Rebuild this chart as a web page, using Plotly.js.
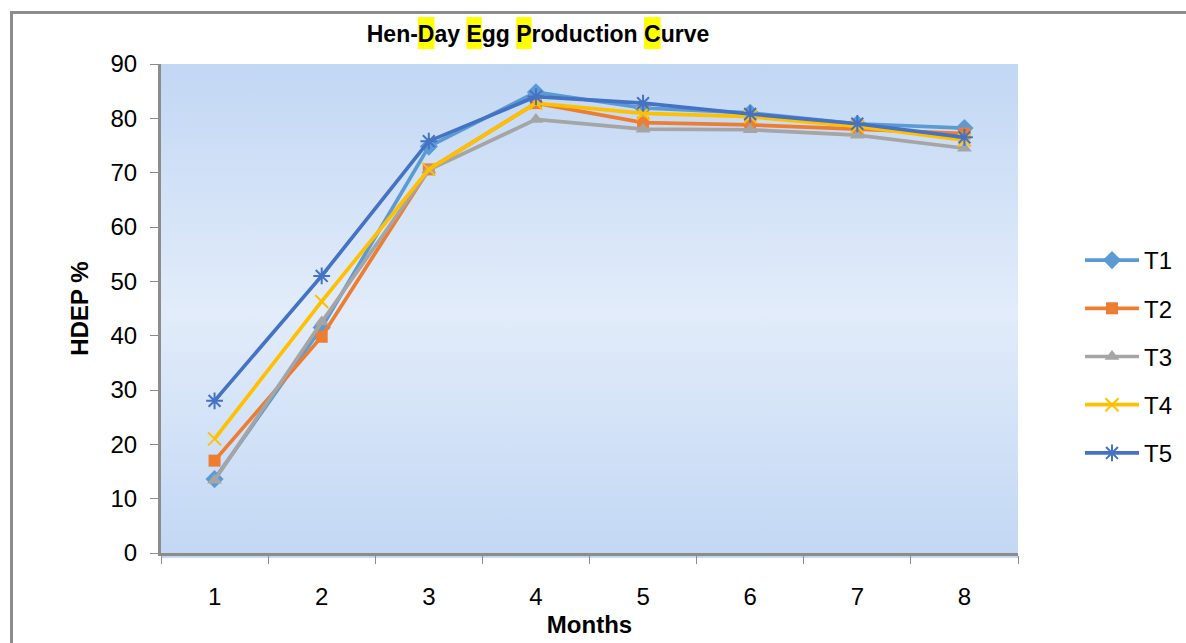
<!DOCTYPE html>
<html>
<head>
<meta charset="utf-8">
<script src="https://cdn.plot.ly/plotly-3.0.1.min.js"></script>
<style>
  html, body { margin: 0; padding: 0; background: #fff; }
  #wrap { position: relative; width: 1186px; height: 643px; overflow: hidden; }
  #chart { width: 1186px; height: 643px; }
  #frame { position: absolute; left: 10px; top: 11px; width: 1200px; height: 700px;
           border-left: 3px solid #8c8c8c; border-top: 3px solid #8c8c8c; pointer-events: none; }
</style>
</head>
<body>
<div id="wrap">
  <div id="chart"></div>
  <div id="frame"></div>
</div>
<script>
const months = ['1', '2', '3', '4', '5', '6', '7', '8'];
const seriesNames = ['T1', 'T2', 'T3', 'T4', 'T5'];
const T1 = [13.6, 41.5, 74.8, 84.8, 81.9, 81.0, 79.0, 78.2];
const T2 = [17.0, 39.8, 70.6, 82.8, 79.2, 78.8, 78.0, 77.2];
const T3 = [13.4, 42.5, 70.5, 79.8, 78.0, 77.9, 76.9, 74.5];
const T4 = [21.0, 46.3, 70.6, 82.8, 80.9, 80.3, 78.5, 76.0];
const T5 = [28.0, 51.0, 75.8, 84.0, 82.8, 80.8, 79.0, 76.5];
const yTicks = [0, 10, 20, 30, 40, 50, 60, 70, 80, 90];
const titleText = 'Hen-Day Egg Production Curve';
const highlightIdx = [4, 8, 12, 23]; // D, E, P, C

const FONT = '"Liberation Sans Narrow", "Arial Narrow", "Liberation Sans", Arial, sans-serif';

const styles = [
  {color: '#5B9BD5', symbol: 'diamond', size: 14, lw: 0},
  {color: '#ED7D31', symbol: 'square', size: 12, lw: 0},
  {color: '#A5A5A5', symbol: 'triangle-up', size: 13, lw: 0},
  {color: '#FFC000', symbol: 'x-thin-open', size: 13, lw: 2},
  {color: '#4472C4', symbol: 'asterisk-open', size: 14, lw: 2}
];
const values = [T1, T2, T3, T4, T5];

const traces = values.map((v, i) => ({
  type: 'scatter',
  mode: 'lines+markers',
  name: seriesNames[i],
  legendgroup: seriesNames[i],
  x: months,
  y: v,
  line: {color: styles[i].color, width: 3.7},
  marker: {symbol: styles[i].symbol, size: styles[i].size, color: styles[i].color,
           line: {color: styles[i].color, width: styles[i].lw}}
}));

// plot area: x 161..1018, y 64..553
const L = 161, R = 1018, T = 64, B = 553;

const gradSvg = '<svg xmlns="http://www.w3.org/2000/svg" width="100" height="100" preserveAspectRatio="none">' +
  '<defs><linearGradient id="g" x1="0" y1="0" x2="0" y2="1">' +
  '<stop offset="0" stop-color="#C2D7F4"/><stop offset="0.5" stop-color="#E2ECFA"/><stop offset="1" stop-color="#C2D7F4"/>' +
  '</linearGradient></defs><rect width="100" height="100" fill="url(#g)"/></svg>';
const gradUri = 'data:image/svg+xml;base64,' + btoa(gradSvg);

const layout = {
  width: 1186, height: 643,
  margin: {l: L, r: 1186 - R, t: T, b: 643 - B},
  paper_bgcolor: '#ffffff',
  plot_bgcolor: 'rgba(0,0,0,0)',
  font: {family: FONT, size: 24, color: '#000'},
  title: {
    text: '<b>' + titleText + '</b>',
    font: {family: FONT, size: 23, color: '#000'},
    xref: 'container', yref: 'container',
    x: 538 / 1186, xanchor: 'center',
    y: 1 - 34 / 643, yanchor: 'middle'
  },
  xaxis: {
    type: 'category',
    range: [-0.5, 7.5],
    tickson: 'boundaries',
    ticks: 'outside', ticklen: 8, tickwidth: 1, tickcolor: '#8c8c8c',
    ticklabelstandoff: 20,
    showline: true, linecolor: '#8c8c8c', linewidth: 3,
    showgrid: false, zeroline: false,
    tickfont: {family: FONT, size: 24, color: '#000'},
    title: {text: '<b>Months</b>', font: {family: FONT, size: 24, color: '#000'}, standoff: 8},
    fixedrange: true
  },
  yaxis: {
    range: [0, 90],
    tickvals: yTicks,
    ticks: 'outside', ticklen: 8, tickwidth: 1, tickcolor: '#8c8c8c',
    ticklabelstandoff: 8,
    showline: true, linecolor: '#8c8c8c', linewidth: 3,
    showgrid: false, zeroline: false,
    tickfont: {family: FONT, size: 24, color: '#000'},
    title: {text: '<b>HDEP %</b>', font: {family: FONT, size: 24, color: '#000'}, standoff: 16},
    fixedrange: true
  },
  images: [{
    source: gradUri, xref: 'paper', yref: 'paper',
    x: 0, y: 1, sizex: 1, sizey: 1.01, sizing: 'stretch',
    xanchor: 'left', yanchor: 'top', layer: 'below'
  }],
  shapes: [],
  legend: {
    xref: 'container', yref: 'container',
    x: 1080 / 1186, xanchor: 'left',
    y: 1 - 238 / 643, yanchor: 'top',
    traceorder: 'grouped', tracegroupgap: 14,
    font: {family: FONT, size: 24, color: '#000'},
    bgcolor: 'rgba(0,0,0,0)', itemwidth: 54
  },
  showlegend: true
};

Plotly.newPlot('chart', traces, layout, {displayModeBar: false, staticPlot: true}).then(gd => {
  // yellow highlight boxes behind the capital letters of the title
  const txt = gd.querySelector('.gtitle');
  if (!txt || !txt.getExtentOfChar) return;
  const shapes = [];
  highlightIdx.forEach(i => {
    try {
      const ext = txt.getExtentOfChar(i);
      const ctm = txt.getCTM();
      const x0 = ext.x * ctm.a + ctm.e, x1 = (ext.x + ext.width) * ctm.a + ctm.e;
      const yTop = ext.y * ctm.d + ctm.f - 4, yBot = (ext.y + ext.height) * ctm.d + ctm.f + 2;
      shapes.push({
        type: 'rect', xref: 'paper', yref: 'paper', layer: 'below',
        x0: (x0 - L) / (R - L), x1: (x1 - L) / (R - L),
        y0: (B - yBot) / (B - T), y1: (B - yTop) / (B - T),
        fillcolor: '#FFFF00', line: {width: 0}
      });
    } catch (e) {}
  });
  return Plotly.relayout(gd, {shapes: shapes});
});
</script>
</body>
</html>
